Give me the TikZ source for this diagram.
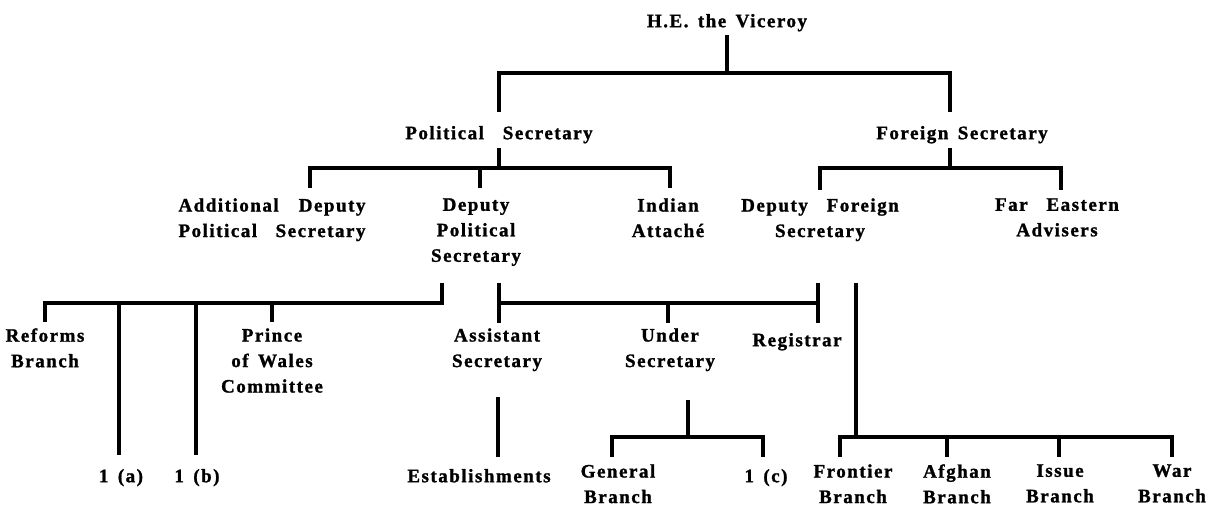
\documentclass[tikz,border=0pt]{standalone}
\usepackage{fontspec}
\setmainfont{Liberation Serif}[LetterSpace=8,WordSpace=1.5,BoldFeatures={FakeBold=1.3}]
\newcommand\labfont{\bfseries\fontsize{19}{25.5}\selectfont}
\begin{document}
\begin{tikzpicture}[x=1pt,y=-1pt,
  ln/.style={line width=3.4pt, line cap=butt, line join=miter},
  lab/.style={anchor=north, inner sep=0pt, align=center, font=\labfont, execute at begin node=\strut}]
\useasboundingbox (0,0) rectangle (1218,511);
% ---------- text nodes ----------
\node[lab] (vic) at (727,9.15) {H.E.\ the\ Viceroy};
\node[lab] (pol) at (499,121.15) {Political\ \ Secretary};
\node[lab] (for) at (962,121.15) {Foreign\ Secretary};
\node[lab] (adps) at (272,198.15) {\hbox to 187pt{Additional\hfill Deputy}\\\hbox to 187pt{Political\hfill Secretary}};
\node[lab] (dps) at (476,198.15) {Deputy\\Political\\Secretary};
\node[lab] (ia) at (668,198.15) {Indian\\Attaché};
\node[lab] (dfs) at (820,198.15) {Deputy\ \ Foreign\\Secretary};
\node[lab] (fea) at (1057,198.15) {Far\ \ Eastern\\Advisers};
\node[lab] (ref) at (45,328.15) {Reforms\\Branch};
\node[lab] (pwc) at (272,328.15) {Prince\\of\ Wales\\Committee};
\node[lab] (as) at (497,328.15) {Assistant\\Secretary};
\node[lab] (us) at (670,328.15) {Under\\Secretary};
\node[lab] (reg) at (797,328.15) {Registrar};
\node[lab] (oa) at (121,464.15) {1\ (a)};
\node[lab] (ob) at (197,464.15) {1\ (b)};
\node[lab] (est) at (479,464.15) {Establishments};
\node[lab] (gen) at (618,464.15) {General\\Branch};
\node[lab] (oc) at (766,464.15) {1\ (c)};
\node[lab] (fro) at (853,464.15) {Frontier\\Branch};
\node[lab] (afg) at (957,464.15) {Afghan\\Branch};
\node[lab] (iss) at (1060,464.15) {Issue\\Branch};
\node[lab] (war) at (1172,464.15) {War\\Branch};
% ---------- connectors ----------
% Viceroy
\draw[ln] (727,35) -- (727,73);
\draw[ln] (499,112) -- (499,73) -- (950,73) -- (950,112);
% Political Secretary
\draw[ln] (499,148) -- (499,168);
\draw[ln] (310,188) -- (310,168) -- (670,168) -- (670,188);
\draw[ln] (480,168) -- (480,188);
% Foreign Secretary
\draw[ln] (950,148) -- (950,168);
\draw[ln] (820,190) -- (820,168) -- (1061,168) -- (1061,190);
% Deputy Political Secretary, left group
\draw[ln] (442,283) -- (442,303) -- (45,303) -- (45,322);
\draw[ln] (119,303) -- (119,455);
\draw[ln] (196,303) -- (196,455);
\draw[ln] (272,303) -- (272,322);
% Deputy Political Secretary to Deputy Foreign Secretary
\draw[ln] (499,283) -- (499,323);
\draw[ln] (818,283) -- (818,323);
\draw[ln] (499,303) -- (818,303);
\draw[ln] (668,303) -- (668,323);
% Deputy Foreign Secretary, branches
\draw[ln] (856,283) -- (856,437);
\draw[ln] (840,457) -- (840,437) -- (1172,437) -- (1172,457);
\draw[ln] (947,437) -- (947,457);
\draw[ln] (1059,437) -- (1059,457);
% Assistant Secretary
\draw[ln] (498,397) -- (498,457);
% Under Secretary
\draw[ln] (688,400) -- (688,437);
\draw[ln] (612,457) -- (612,437) -- (763,437) -- (763,457);
\end{tikzpicture}
\end{document}
